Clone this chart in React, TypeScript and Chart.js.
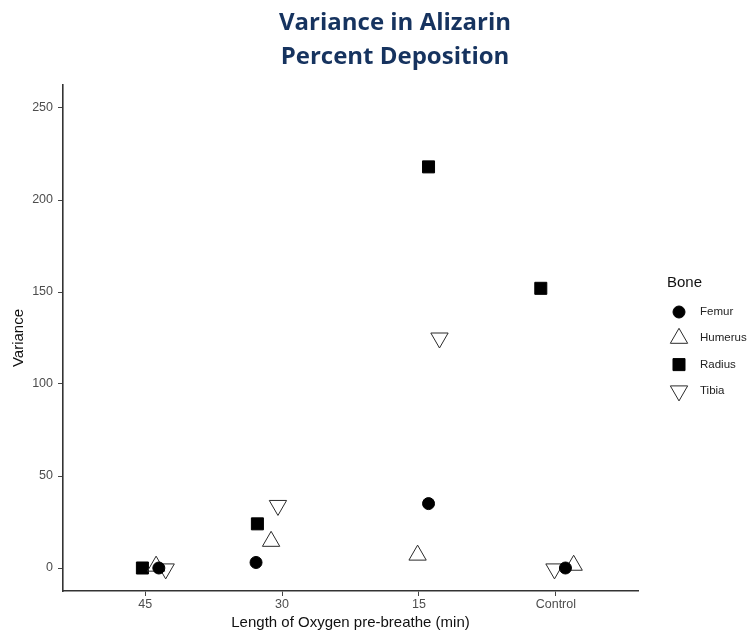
import React, { useEffect, useRef } from "react";
import { Chart, registerables } from "chart.js";
import { drawPoint } from "chart.js/helpers";

Chart.register(...registerables);

// ---- data ----
const categories = ["45", "30", "15", "Control"];
const bones = ["Femur", "Humerus", "Radius", "Tibia"];
// jittered x positions (category index 1..4 plus jitter)
const femurX = [1.1, 1.81, 3.07, 4.07];
const femurY = [0, 3, 35, 0];
const humerusX = [1.08, 1.92, 2.99, 4.13];
const humerusY = [1, 14.5, 7, 1.5];
const radiusX = [0.98, 1.82, 3.07, 3.89];
const radiusY = [0, 24, 218, 152];
const tibiaX = [1.15, 1.97, 3.15, 3.99];
const tibiaY = [-0.5, 34, 125, -0.5];
const yTicks = [0, 50, 100, 150, 200, 250];

const toPoints = (xs: number[], ys: number[]) => xs.map((x, i) => ({ x, y: ys[i] }));

const markerStyles = [
  { pointStyle: "circle", radius: 6, rotation: 0, bg: "#000", border: "#000", bw: 1 },
  { pointStyle: "triangle", radius: 10, rotation: 0, bg: "rgba(255,255,255,0)", border: "#2a2a2a", bw: 1 },
  { pointStyle: "rect", radius: 8.5, rotation: 0, bg: "#000", border: "#000", bw: 1 },
  { pointStyle: "triangle", radius: 10, rotation: 180, bg: "rgba(255,255,255,0)", border: "#2a2a2a", bw: 1 },
];

const seriesData = [
  toPoints(femurX, femurY),
  toPoints(humerusX, humerusY),
  toPoints(radiusX, radiusY),
  toPoints(tibiaX, tibiaY),
];

const AXIS_FONT = '"Liberation Sans", Arial, sans-serif';

const legendPlugin = {
  id: "boneLegend",
  afterDraw(chart: any) {
    const ctx = chart.ctx as CanvasRenderingContext2D;
    const left = chart.chartArea.right + 29;
    ctx.save();
    ctx.textBaseline = "middle";
    ctx.textAlign = "left";
    ctx.fillStyle = "#111";
    ctx.font = `15px ${AXIS_FONT}`;
    ctx.fillText("Bone", left, 283);
    bones.forEach((name, i) => {
      const y = 312 + i * 26.3;
      const m = markerStyles[i];
      ctx.fillStyle = m.bg;
      ctx.strokeStyle = m.border;
      ctx.lineWidth = m.bw;
      drawPoint(ctx, { pointStyle: m.pointStyle as any, radius: m.radius, rotation: m.rotation, borderWidth: m.bw }, left + 12, y);
      ctx.fillStyle = "#222";
      ctx.font = `11.5px ${AXIS_FONT}`;
      ctx.fillText(name, left + 33, y);
    });
    ctx.restore();
  },
};

export default function App() {
  const ref = useRef<HTMLCanvasElement>(null);

  useEffect(() => {
    if (!ref.current) return;
    const chart = new Chart(ref.current, {
      type: "scatter",
      data: {
        datasets: bones.map((name, i) => ({
          label: name,
          data: seriesData[i],
          pointStyle: markerStyles[i].pointStyle as any,
          pointRadius: markerStyles[i].radius,
          pointRotation: markerStyles[i].rotation,
          pointBackgroundColor: markerStyles[i].bg,
          pointBorderColor: markerStyles[i].border,
          pointBorderWidth: markerStyles[i].bw,
          pointHoverRadius: markerStyles[i].radius,
          clip: false as any,
        })),
      },
      options: {
        animation: false,
        responsive: false,
        layout: { padding: { top: 85, right: 116, bottom: 0, left: 0 } },
        plugins: {
          legend: { display: false },
          title: { display: false },
          tooltip: { enabled: false },
        },
        scales: {
          x: {
            type: "linear",
            min: 0.4,
            max: 4.6,
            afterBuildTicks: (scale: any) => {
              scale.ticks = categories.map((_, i) => ({ value: i + 1 }));
            },
            afterFit: (scale: any) => {
              scale.height = 42;
            },
            ticks: {
              autoSkip: false,
              maxRotation: 0,
              padding: 1,
              color: "#4d4d4d",
              font: { family: AXIS_FONT, size: 12.5 },
              callback: (v: any) => categories[Math.round(Number(v)) - 1] ?? "",
            },
            grid: { drawOnChartArea: false, drawTicks: true, tickLength: 5, color: "#444", lineWidth: 1 },
            border: { display: true, color: "#333", width: 1.6 },
            title: {
              display: true,
              text: "Length of Oxygen pre-breathe (min)",
              color: "#111",
              font: { family: AXIS_FONT, size: 15 },
              padding: { top: 0, bottom: 1 },
            },
          },
          y: {
            type: "linear",
            min: -12.5,
            max: 262.5,
            afterBuildTicks: (scale: any) => {
              scale.ticks = yTicks.map((v) => ({ value: v }));
            },
            afterFit: (scale: any) => {
              scale.width = 63;
            },
            ticks: {
              padding: 5,
              color: "#4d4d4d",
              font: { family: AXIS_FONT, size: 12.5 },
            },
            grid: { drawOnChartArea: false, drawTicks: true, tickLength: 5, color: "#444", lineWidth: 1 },
            border: { display: true, color: "#333", width: 1.6 },
            title: {
              display: true,
              text: "Variance",
              color: "#111",
              font: { family: AXIS_FONT, size: 15 },
              padding: { top: 10, bottom: 0 },
            },
          },
        },
      },
      plugins: [legendPlugin],
    });
    return () => chart.destroy();
  }, []);

  return (
    <div style={{ position: "fixed", left: 0, top: 0, width: 754, height: 633, background: "#fff" }}>
      <div
        style={{
          position: "absolute",
          left: 195,
          top: 4,
          width: 400,
          textAlign: "center",
          fontFamily: '"Open Sans", sans-serif',
          fontWeight: 700,
          fontSize: 24,
          lineHeight: "34px",
          color: "#16335f",
        }}
      >
        Variance in Alizarin
        <br />
        Percent Deposition
      </div>
      <canvas ref={ref} width={754} height={633} style={{ display: "block" }} />
    </div>
  );
}
